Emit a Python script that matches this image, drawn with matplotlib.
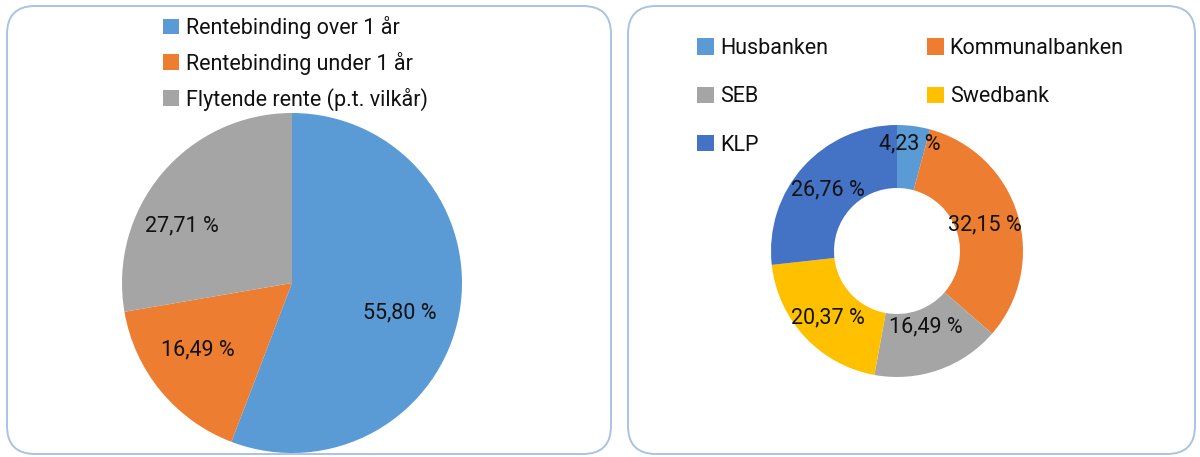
import matplotlib
matplotlib.use("Agg")
import matplotlib.pyplot as plt
from matplotlib.patches import FancyBboxPatch

plt.rcParams['font.family'] = ['Roboto', 'DejaVu Sans']

# Left chart data
left_labels = ["Rentebinding over 1 år", "Rentebinding under 1 år", "Flytende rente (p.t. vilkår)"]
left_values = [55.80, 16.49, 27.71]
left_colors = ["#5B9BD5", "#ED7D31", "#A5A5A5"]

# Right chart data
right_labels = ["Husbanken", "Kommunalbanken", "SEB", "Swedbank", "KLP"]
right_values = [4.23, 32.15, 16.49, 20.37, 26.76]
right_colors = ["#5B9BD5", "#ED7D31", "#A5A5A5", "#FFC000", "#4472C4"]

W, H = 1200, 457
fig = plt.figure(figsize=(W / 100, H / 100), dpi=100)
fig.patch.set_facecolor("white")

def px_axes(x0, y0, x1, y1, **kw):
    return fig.add_axes([x0 / W, (H - y1) / H, (x1 - x0) / W, (y1 - y0) / H], **kw)

bg = px_axes(0, 0, W, H)
bg.set_xlim(0, W)
bg.set_ylim(H, 0)
bg.axis("off")
for (x0, y0, x1, y1) in [(7, 6, 611, 454), (628, 6, 1195, 454)]:
    bg.add_patch(FancyBboxPatch((x0, y0), x1 - x0, y1 - y0,
                                boxstyle="round,pad=0,rounding_size=28",
                                facecolor="white", edgecolor="#A9C3E3", linewidth=1.4))

def fmt(v):
    return (f"{v:.2f}").replace(".", ",") + " %"

txt_color = "#111111"
FS = 15.5

# Left pie
ax1 = px_axes(122, 113, 462, 453)
w1, _ = ax1.pie(left_values, colors=left_colors, startangle=90, counterclock=False,
                wedgeprops=dict(linewidth=0))
ax1.set_xlim(-1, 1); ax1.set_ylim(-1, 1)

# Right donut
ax2 = px_axes(771, 125, 1023, 377)
w2, _ = ax2.pie(right_values, colors=right_colors, startangle=90, counterclock=False,
                wedgeprops=dict(width=0.5, linewidth=0))
ax2.set_xlim(-1, 1); ax2.set_ylim(-1, 1)

# Foreground overlay for labels and legends
fg = px_axes(0, 0, W, H)
fg.set_xlim(0, W)
fg.set_ylim(H, 0)
fg.axis("off")
fg.patch.set_alpha(0)

pos1 = [(400, 313), (198, 350), (182, 226)]
for v, (x, y) in zip(left_values, pos1):
    fg.text(x, y, fmt(v), ha="center", va="center", fontsize=FS, color=txt_color)
pos2 = [(910, 144), (985, 225), (926, 327), (828, 318), (828, 190)]
for v, (x, y) in zip(right_values, pos2):
    fg.text(x, y, fmt(v), ha="center", va="center", fontsize=FS, color=txt_color)

leg1 = fg.legend(w1, left_labels, loc="upper left", bbox_to_anchor=(163, 16),
                 bbox_transform=fg.transData, frameon=False, fontsize=FS,
                 handlelength=0.76, handleheight=0.76, handletextpad=0.32,
                 labelspacing=0.6, borderpad=0, borderaxespad=0, labelcolor=txt_color)
fg.add_artist(leg1)
order = [0, 2, 4, 1, 3]
leg2 = fg.legend([w2[i] for i in order], [right_labels[i] for i in order],
                 loc="upper left", bbox_to_anchor=(697, 38),
                 bbox_transform=fg.transData, frameon=False, fontsize=FS, ncol=2,
                 handlelength=0.78, handleheight=0.78, handletextpad=0.28,
                 labelspacing=1.27, columnspacing=4.6, borderpad=0, borderaxespad=0,
                 labelcolor=txt_color)

fig.savefig("out.png", dpi=100)
